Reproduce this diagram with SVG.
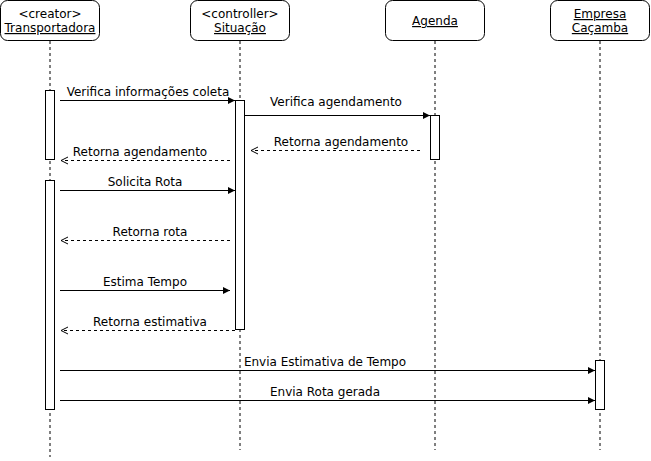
<svg xmlns="http://www.w3.org/2000/svg" width="651" height="461" viewBox="0 0 651 461">
<defs>
<style>
.box{fill:#fff;stroke:#000;stroke-width:1}
.life{stroke:#000;stroke-width:1;stroke-dasharray:3,3;fill:none}
.act{fill:#fff;stroke:#000;stroke-width:1}
.msg{stroke:#000;stroke-width:1;fill:none}
.ret{stroke:#000;stroke-width:1;fill:none;stroke-dasharray:3,3}
text{font-family:"DejaVu Sans",Verdana,sans-serif;font-size:12px;fill:#000;text-anchor:middle}
.u{text-decoration:underline}
</style>
<marker id="filled" markerWidth="8" markerHeight="8" refX="7" refY="3.5" orient="auto" markerUnits="userSpaceOnUse">
<path d="M0,0 L7,3.5 L0,7 Z" fill="#000"/>
</marker>
<marker id="open" markerWidth="10" markerHeight="10" refX="8" refY="4.5" orient="auto" markerUnits="userSpaceOnUse">
<path d="M1,1 L8,4.5 L1,8" fill="none" stroke="#000" stroke-width="1"/>
</marker>
</defs>
<rect width="651" height="461" fill="#fff"/>

<g id="transportadora">
<rect class="box" x="0.5" y="0.5" width="99" height="40" rx="7"/>
<line class="life" x1="50" y1="41" x2="50" y2="457"/>
<text x="50" y="18">&lt;creator&gt;</text>
<text x="50" y="32" class="u">Transportadora</text>
<rect class="act" x="45.5" y="90.5" width="9" height="69"/>
<rect class="act" x="45.5" y="180.5" width="9" height="229"/>
</g>

<g id="situacao">
<rect class="box" x="190.5" y="0.5" width="99" height="40" rx="7"/>
<line class="life" x1="240" y1="41" x2="240" y2="450"/>
<text x="240" y="18">&lt;controller&gt;</text>
<text x="240" y="32" class="u">Situação</text>
<rect class="act" x="235.5" y="100.5" width="9" height="229"/>
</g>

<g id="agenda">
<rect class="box" x="385.5" y="0.5" width="99" height="40" rx="7"/>
<line class="life" x1="435" y1="41" x2="435" y2="450"/>
<text x="435" y="25" class="u">Agenda</text>
<rect class="act" x="430.5" y="115.5" width="9" height="44"/>
</g>

<g id="empresa">
<rect class="box" x="550.5" y="0.5" width="99" height="40" rx="7"/>
<line class="life" x1="600" y1="41" x2="600" y2="450"/>
<text x="600" y="18" class="u">Empresa</text>
<text x="600" y="32" class="u">Caçamba</text>
<rect class="act" x="595.5" y="360.5" width="9" height="49"/>
</g>

<g id="connectors">
<line class="msg" x1="60" y1="100.5" x2="235" y2="100.5" marker-end="url(#filled)"/>
<text x="148" y="96">Verifica informações coleta</text>
<line class="msg" x1="245" y1="115.5" x2="430" y2="115.5" marker-end="url(#filled)"/>
<text x="336" y="106">Verifica agendamento</text>
<line class="ret" x1="420" y1="150.5" x2="251" y2="150.5" marker-end="url(#open)"/>
<text x="341" y="146">Retorna agendamento</text>
<line class="ret" x1="230" y1="160.5" x2="61" y2="160.5" marker-end="url(#open)"/>
<text x="140" y="156">Retorna agendamento</text>
<line class="msg" x1="60" y1="190.5" x2="235" y2="190.5" marker-end="url(#filled)"/>
<text x="145" y="186">Solicita Rota</text>
<line class="ret" x1="230" y1="240.5" x2="61" y2="240.5" marker-end="url(#open)"/>
<text x="150" y="236">Retorna rota</text>
<line class="msg" x1="60" y1="290.5" x2="230" y2="290.5" marker-end="url(#filled)"/>
<text x="145" y="286">Estima Tempo</text>
<line class="ret" x1="235" y1="330.5" x2="61" y2="330.5" marker-end="url(#open)"/>
<text x="150" y="326">Retorna estimativa</text>
<line class="msg" x1="60" y1="370.5" x2="595" y2="370.5" marker-end="url(#filled)"/>
<text x="325" y="366">Envia Estimativa de Tempo</text>
<line class="msg" x1="60" y1="400.5" x2="595" y2="400.5" marker-end="url(#filled)"/>
<text x="325" y="396">Envia Rota gerada</text>
</g>
</svg>
